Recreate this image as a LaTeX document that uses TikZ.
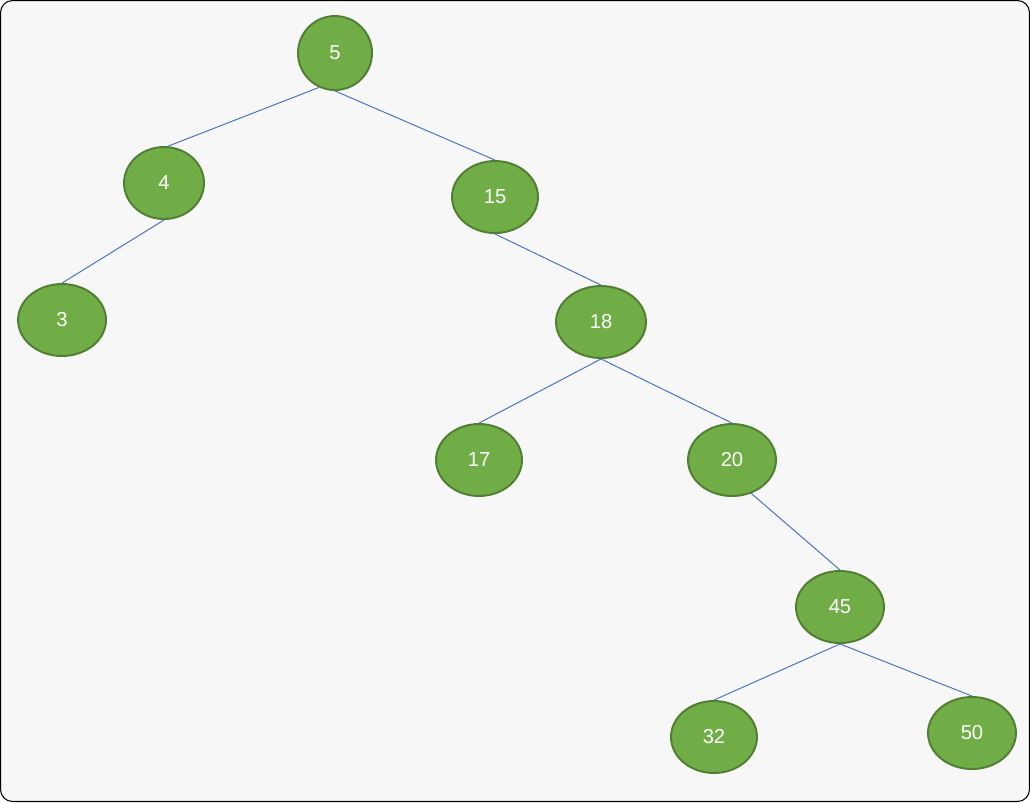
\documentclass[tikz,border=0pt]{standalone}
\usepackage{fontspec}
\setmainfont{Liberation Sans}
\usetikzlibrary{shapes.geometric}

\definecolor{leaf}{HTML}{70AD47}
\definecolor{leafrim}{HTML}{507E32}
\definecolor{link}{HTML}{4472C4}
\definecolor{paper}{HTML}{F7F7F7}

\tikzset{
  key/.style={ellipse, fill=leaf, draw=leafrim, line width=1.1pt, inner sep=0pt,
              text=white, font=\fontsize{11.5}{13}\selectfont},
  link/.style={draw=link, line width=0.55pt}
}

\begin{document}
\begin{tikzpicture}[x=0.02cm, y=-0.02cm]
\draw [fill=paper, rounded corners=0.24cm, line width=0.6pt] (0.5,0.5) rectangle (1029.5,801.5);
\useasboundingbox (0,0) rectangle (1030,802);
\node[key, minimum width=1.48cm, minimum height=1.48cm] (n5)  at (335,53)  {5};
\node[key, minimum width=1.6cm,  minimum height=1.44cm] (n4)  at (164,183) {4};
\node[key, minimum width=1.72cm, minimum height=1.44cm] (n15) at (495,197) {15};
\node[key, minimum width=1.76cm, minimum height=1.44cm] (n3)  at (62,320)  {3};
\node[key, minimum width=1.8cm,  minimum height=1.44cm] (n18) at (601,322) {18};
\node[key, minimum width=1.72cm, minimum height=1.44cm] (n17) at (479,460) {17};
\node[key, minimum width=1.76cm, minimum height=1.44cm] (n20) at (732,460) {20};
\node[key, minimum width=1.76cm, minimum height=1.44cm] (n45) at (840,607) {45};
\node[key, minimum width=1.72cm, minimum height=1.44cm] (n32) at (714,737) {32};
\node[key, minimum width=1.76cm, minimum height=1.44cm] (n50) at (972,733) {50};
\draw [link] (n5.-115) -- (n4.84);
\draw [link] (n5.south) -- (n15.north);
\draw [link] (n4.south) -- (n3.north);
\draw [link] (n15.south) -- (n18.north);
\draw [link] (n18.south) -- (n17.north);
\draw [link] (n18.south) -- (n20.north);
\draw [link] (n20.-60) -- (n45.north);
\draw [link] (n45.south) -- (n32.north);
\draw [link] (n45.south) -- (n50.north);
\end{tikzpicture}
\end{document}
